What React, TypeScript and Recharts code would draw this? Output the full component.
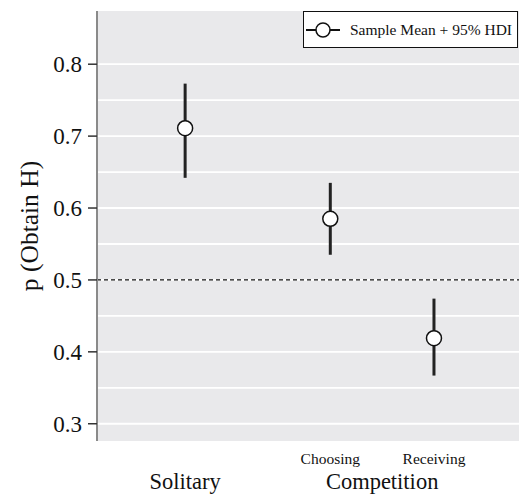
import {
  CartesianGrid,
  ComposedChart,
  ErrorBar,
  ReferenceLine,
  Scatter,
  XAxis,
  YAxis,
} from "recharts";

// conditions, their x slot on the axis, and the estimated HDI summary
const conditions = ["Solitary", "Choosing", "Receiving"];
const slots = [1, 2.4, 3.4];
const means = [0.711, 0.585, 0.419];
const lowers = [0.642, 0.535, 0.367];
const uppers = [0.773, 0.635, 0.474];

const groupLabels = ["Competition"];
const groupSlots = [2.9];

const yTicks = [0.3, 0.4, 0.5, 0.6, 0.7, 0.8];
const gridValues = [0.3, 0.35, 0.4, 0.45, 0.5, 0.55, 0.6, 0.65, 0.7, 0.75, 0.8];

const data = conditions.map((name, i) => ({
  name,
  x: slots[i],
  mean: means[i],
  hdi: [means[i] - lowers[i], uppers[i] - means[i]],
}));

const FONT = "'Liberation Serif', 'Times New Roman', serif";

function XTick({ x, y, payload }: any) {
  const v = payload.value;
  const ci = slots.indexOf(v);
  const big = { fontFamily: FONT, fontSize: 22.5 };
  if (ci === 0) {
    return (
      <text x={x} y={y + 40} textAnchor="middle" style={big} fill="#111">
        {conditions[0]}
      </text>
    );
  }
  if (ci > 0) {
    return (
      <text x={x} y={y + 15} textAnchor="middle" style={{ fontFamily: FONT, fontSize: 15.5 }} fill="#111">
        {conditions[ci]}
      </text>
    );
  }
  const gi = groupSlots.indexOf(v);
  return (
    <text x={x} y={y + 40} textAnchor="middle" style={big} fill="#111">
      {groupLabels[gi]}
    </text>
  );
}

function YTick({ x, y, payload }: any) {
  return (
    <text x={x} y={y + 8} textAnchor="end" style={{ fontFamily: FONT, fontSize: 23 }} fill="#111">
      {payload.value.toFixed(1)}
    </text>
  );
}

function LegendBox() {
  return (
    <div
      style={{
        position: "absolute",
        left: 303,
        top: 11,
        width: 213,
        height: 35,
        border: "1.5px solid #111",
        background: "#fff",
        display: "flex",
        alignItems: "center",
        fontFamily: FONT,
        fontSize: 15.5,
        color: "#111",
      }}
    >
      <svg width={34} height={20} style={{ marginLeft: 2, marginRight: 10 }}>
        <line x1={0} y1={10} x2={34} y2={10} stroke="#111" strokeWidth={2.2} />
        <circle cx={17} cy={10} r={7} fill="#fff" stroke="#111" strokeWidth={1.5} />
      </svg>
      <span>Sample Mean + 95% HDI</span>
    </div>
  );
}

export default function App() {
  return (
    <div style={{ position: "absolute", left: 0, top: 0, width: 519, height: 497, background: "#fff" }}>
      <ComposedChart
        width={519}
        height={497}
        data={data}
        margin={{ top: 11, right: 0, bottom: 0, left: 0 }}
      >
        <CartesianGrid
          fill="#e9e9eb"
          stroke="#ffffff"
          strokeWidth={1.8}
          vertical={false}
          horizontalValues={gridValues}
        />
        <XAxis
          type="number"
          dataKey="x"
          domain={[0.15, 4.22]}
          ticks={[...slots, ...groupSlots]}
          interval={0}
          tick={<XTick />}
          axisLine={false}
          tickLine={false}
          height={56}
          allowDataOverflow
        />
        <YAxis
          type="number"
          dataKey="mean"
          domain={[0.276, 0.874]}
          ticks={yTicks}
          interval={0}
          width={97}
          allowDataOverflow
          axisLine={{ stroke: "#8a8a8a", strokeWidth: 2 }}
          tickLine={{ stroke: "#333", strokeWidth: 1.5 }}
          tickSize={9}
          tickMargin={6}
          tick={<YTick />}
          label={{
            value: "p (Obtain H)",
            angle: -90,
            position: "insideLeft",
            offset: 29,
            style: { fontFamily: FONT, fontSize: 25.5, fill: "#111", textAnchor: "middle" },
          }}
        />
        <ReferenceLine y={0.5} stroke="#111" strokeWidth={1.2} strokeDasharray="4 3" />
        <Scatter
          dataKey="mean"
          isAnimationActive={false}
          shape={(p: any) => (
            <circle cx={p.cx} cy={p.cy} r={7.5} fill="#fff" stroke="#111" strokeWidth={1.5} />
          )}
        >
          <ErrorBar dataKey="hdi" direction="y" width={0} stroke="#222" strokeWidth={3} isAnimationActive={false} />
        </Scatter>
      </ComposedChart>
      <LegendBox />
    </div>
  );
}
